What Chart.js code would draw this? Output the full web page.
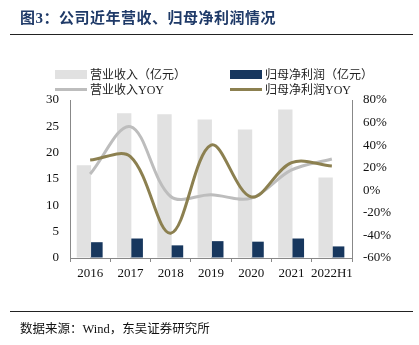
<!DOCTYPE html>
<html>
<head>
<meta charset="utf-8">
<script src="https://cdn.jsdelivr.net/npm/chart.js@4"></script>
<style>
  body { margin: 0; background: #fff; }
  #wrap { position: relative; width: 419px; height: 345px; font-family: "Liberation Serif", "Noto Sans CJK SC", serif; }
  canvas { position: absolute; left: 0; top: 0; }
  .title { position: absolute; left: 20px; top: 6px; font-size: 15px; font-weight: bold; color: #1f3a68; letter-spacing: 0.5px; }
  .rule { position: absolute; left: 10px; width: 403px; height: 0; border-top: 1.5px solid #222; }
  .foot { position: absolute; left: 20px; top: 318px; font-size: 12.5px; color: #111; }
  .leg { position: absolute; font-size: 12px; color: #222; display: flex; align-items: center; white-space: nowrap; }
  .sw { display: inline-block; width: 32px; margin-right: 3px; }
</style>
</head>
<body>
<div id="wrap">
  <canvas id="myChart" width="419" height="345"></canvas>
  <div class="title">图3：公司近年营收、归母净利润情况</div>
  <div class="rule" style="top:34px"></div>
  <div id="legend"></div>
  <div class="rule" style="top:311px"></div>
  <div class="foot">数据来源：Wind，东吴证券研究所</div>
</div>
<script>
const years = ['2016', '2017', '2018', '2019', '2020', '2021', '2022H1'];
const revenue = [17.6, 27.5, 27.3, 26.3, 24.4, 28.2, 15.3];
const profit = [3.0, 3.7, 2.4, 3.2, 3.1, 3.7, 2.2];
const revenueYoy = [14.4, 56.4, -5.5, -4, -7, 18, 27.7];
const profitYoy = [26.8, 29.8, -38, 40, -5.9, 24.5, 21.5];
const leftTicks = [0, 5, 10, 15, 20, 25, 30];
const rightTicks = [-60, -40, -20, 0, 20, 40, 60, 80];

const ctx = document.getElementById('myChart');

const datasets = [
  {
    type: 'bar',
    label: '营业收入（亿元）',
    data: revenue,
    backgroundColor: '#e1e1e1',
    yAxisID: 'y',
    order: 2,
    categoryPercentage: 0.62,
    barPercentage: 1.15,
  },
  {
    type: 'bar',
    label: '归母净利润（亿元）',
    data: profit,
    backgroundColor: '#17375e',
    yAxisID: 'y',
    order: 2,
    categoryPercentage: 0.62,
    barPercentage: 1.0,
  },
  {
    type: 'line',
    label: '营业收入YOY',
    data: revenueYoy,
    borderColor: '#bdbdbd',
    borderWidth: 3,
    pointRadius: 0,
    tension: 0.35,
    yAxisID: 'y1',
    order: 1,
  },
  {
    type: 'line',
    label: '归母净利润YOY',
    data: profitYoy,
    borderColor: '#8c8050',
    borderWidth: 3,
    pointRadius: 0,
    tension: 0.35,
    yAxisID: 'y1',
    order: 0,
  },
];

// legend, 2 x 2
const legPos = [[55, 65], [230, 65], [55, 80], [230, 80]];
const legend = document.getElementById('legend');
datasets.forEach((d, i) => {
  const el = document.createElement('div');
  el.className = 'leg';
  el.style.left = legPos[i][0] + 'px';
  el.style.top = legPos[i][1] + 'px';
  const sw = document.createElement('span');
  sw.className = 'sw';
  if (d.type === 'bar') {
    sw.style.height = '9px';
    sw.style.background = d.backgroundColor;
  } else {
    sw.style.height = '3px';
    sw.style.background = d.borderColor;
  }
  el.appendChild(sw);
  el.appendChild(document.createTextNode(d.label));
  legend.appendChild(el);
});

const tickFont = { family: '"Liberation Serif", serif', size: 13 };

new Chart(ctx, {
  data: { labels: years, datasets: datasets },
  options: {
    responsive: false,
    animation: false,
    layout: { padding: { top: 100, bottom: 0, left: 0, right: 0 } },
    plugins: { legend: { display: false }, tooltip: { enabled: false } },
    scales: {
      x: {
        grid: { display: true, drawOnChartArea: false, drawTicks: true, tickLength: 4, color: '#888', offset: true },
        border: { color: '#888', width: 1 },
        ticks: { color: '#111', font: tickFont, padding: 4, maxRotation: 0, autoSkip: false },
        afterFit: (s) => { s.height = 87; },
      },
      y: {
        position: 'left',
        min: 0, max: 30,
        afterBuildTicks: (s) => { s.ticks = leftTicks.map(v => ({ value: v })); },
        grid: { drawOnChartArea: false, drawTicks: false },
        border: { color: '#888', width: 1 },
        ticks: { color: '#111', font: tickFont, padding: 11 },
        afterFit: (s) => { s.width = 70; },
      },
      y1: {
        position: 'right',
        min: -60, max: 80,
        afterBuildTicks: (s) => { s.ticks = rightTicks.map(v => ({ value: v })); },
        grid: { drawOnChartArea: false, drawTicks: false },
        border: { color: '#888', width: 1 },
        ticks: { color: '#111', font: tickFont, padding: 11, callback: (v) => v + '%' },
        afterFit: (s) => { s.width = 67; },
      },
    },
  },
});
</script>
</body>
</html>
